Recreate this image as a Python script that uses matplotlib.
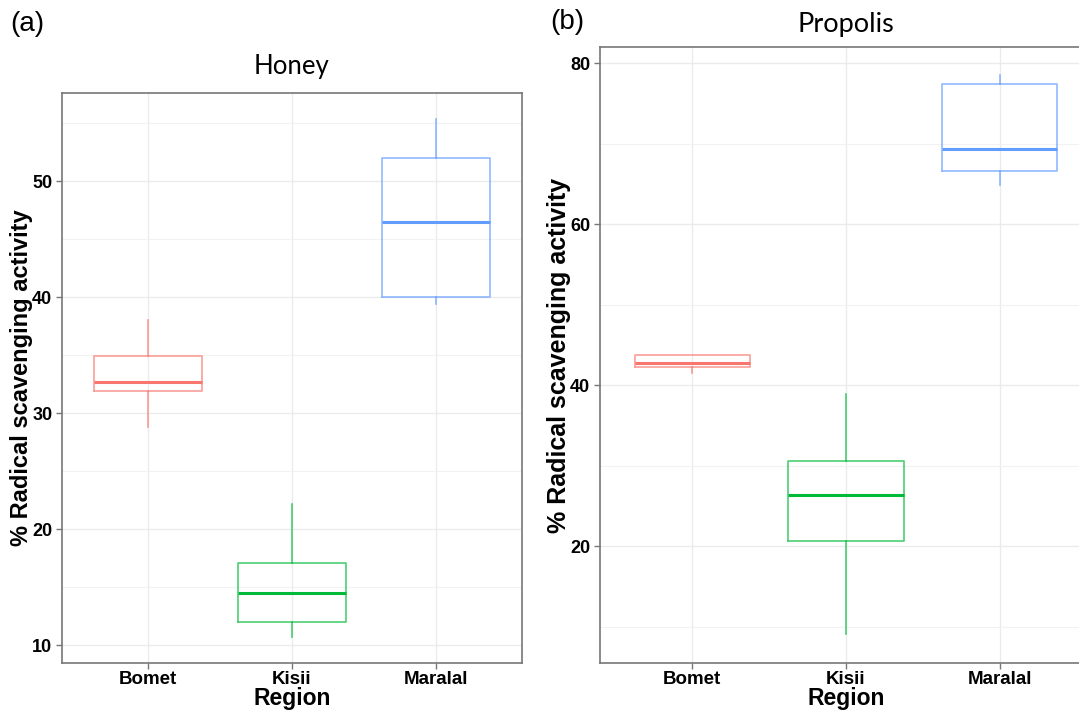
import matplotlib.pyplot as plt
from matplotlib.ticker import MultipleLocator

regions = ["Bomet", "Kisii", "Maralal"]
colors = ["#F8766D", "#00BA38", "#619CFF"]

# box stats: lower whisker, Q1, median, Q3, upper whisker
honey_lo = [28.8, 10.7, 39.4]
honey_q1 = [31.9, 12.0, 40.0]
honey_med = [32.7, 14.5, 46.5]
honey_q3 = [34.9, 17.1, 52.0]
honey_hi = [38.0, 22.2, 55.4]

propolis_lo = [41.5, 9.1, 64.8]
propolis_q1 = [42.2, 20.6, 66.6]
propolis_med = [42.7, 26.3, 69.3]
propolis_q3 = [43.7, 30.6, 77.4]
propolis_hi = [43.7, 38.9, 78.5]

W, H = 1079, 710


def px_axes(fig, box):
    left, top, right, bottom = box
    return fig.add_axes([left / W, (H - bottom) / H, (right - left) / W, (bottom - top) / H])


def panel(ax, box, lo, q1, med, q3, hi, ylim, major, title, pad, title_size, ylab_size, ylab_right):
    left, top, right, bottom = box
    for i in range(len(regions)):
        stats = [dict(whislo=lo[i], q1=q1[i], med=med[i], q3=q3[i], whishi=hi[i], fliers=[])]
        ax.bxp(stats, positions=[i + 1], widths=0.75, showcaps=False,
               boxprops=dict(color=colors[i], alpha=0.7, lw=1.2),
               whiskerprops=dict(color=colors[i], alpha=0.7, lw=1.2),
               medianprops=dict(color=colors[i], lw=2.2),
               manage_ticks=False, zorder=3)
    ax.set_xlim(0.4, 3.6)
    ax.set_ylim(*ylim)
    ax.set_xticks([1, 2, 3])
    ax.set_xticklabels(regions)
    ax.yaxis.set_major_locator(MultipleLocator(major))
    ax.yaxis.set_minor_locator(MultipleLocator(major / 2))
    ax.xaxis.set_minor_locator(plt.NullLocator())
    ax.grid(which="major", color="#EBEBEB", lw=1.0, zorder=0)
    ax.grid(which="minor", axis="y", color="#F2F2F2", lw=0.8, zorder=0)
    ax.set_axisbelow(True)
    for s in ax.spines.values():
        s.set_color("#777777")
        s.set_linewidth(1.2)
    ax.tick_params(which="major", length=4, color="#777777", width=1.0, pad=3)
    ax.tick_params(axis="x", pad=1.5)
    ax.tick_params(which="minor", length=0)
    for lab in ax.get_xticklabels():
        lab.set_family("Liberation Sans")
        lab.set_fontweight("bold")
        lab.set_fontsize(13.5)
    for lab in ax.get_yticklabels():
        lab.set_family("Liberation Sans")
        lab.set_fontweight("bold")
        lab.set_fontsize(13)
    ax.set_xlabel("Region", family="Liberation Sans", fontweight="bold", fontsize=16.5)
    ax.xaxis.set_label_coords(0.5, -(710 - bottom) / (bottom - top))
    ax.xaxis.label.set_va("bottom")
    ax.set_ylabel("% Radical scavenging activity", family="Liberation Sans", fontweight="bold",
                  fontsize=ylab_size)
    ax.yaxis.set_label_coords(-(left - ylab_right) / (right - left), 0.5)
    ax.set_title(title, family="Lato", fontsize=title_size, pad=pad)


fig = plt.figure(figsize=(W / 100, H / 100), dpi=100)

box1 = (62, 93, 522, 663)
ax1 = px_axes(fig, box1)
panel(ax1, box1, honey_lo, honey_q1, honey_med, honey_q3, honey_hi, (8.45, 57.6), 10,
      "Honey", 14, 18.5, 17, 33)

box2 = (600, 47, 1092, 663)
ax2 = px_axes(fig, box2)
panel(ax2, box2, propolis_lo, propolis_q1, propolis_med, propolis_q3, propolis_hi, (5.47, 82.0), 20,
      "Propolis", 11, 19.5, 18, 571)

fig.text(10 / W, (H - 24) / H, "(a)", family="Liberation Sans", fontsize=20, va="center", ha="left")
fig.text(550 / W, (H - 22) / H, "(b)", family="Liberation Sans", fontsize=20, va="center", ha="left")

fig.savefig("out.png", dpi=100)
